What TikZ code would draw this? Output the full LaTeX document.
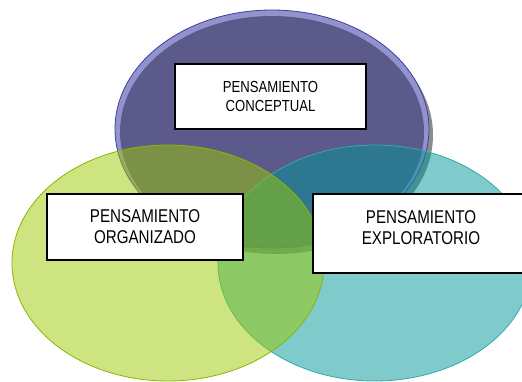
\documentclass[tikz,border=0pt]{standalone}
\usepackage{fontspec}
\newfontfamily\boxfont[FakeStretch=0.82]{Liberation Sans}
\usepackage{tikz}
\usetikzlibrary{backgrounds}
\usetikzlibrary{calc}
\definecolor{purplemain}{HTML}{5B5A8B}
\definecolor{purplerim}{HTML}{9393CC}
\definecolor{purpleline}{HTML}{3E3EA6}
\definecolor{tealbase}{HTML}{009597}
\definecolor{greenbase}{HTML}{9BC901}
\tikzset{
  thinkbox/.style={draw=black, line width=1.8pt, fill=white, inner sep=0pt, align=center},
  bigtext/.style={font=\boxfont\fontsize{18.5}{21}\selectfont},
  smalltext/.style={font=\boxfont\fontsize{16}{19}\selectfont},
  softset/.style={fill opacity=0.5, draw opacity=1, line width=0.8pt}
}

\begin{document}
\begin{tikzpicture}[x=1pt, y=1pt]
  \useasboundingbox (0,0) rectangle (522,381);
  \clip (0,0) rectangle (522,381);
  % top ellipse with its shadow
  \fill[black!45] (276,246) ellipse (157 and 119);
  \fill[purplerim] (272,252) ellipse (157 and 119);
  \fill[purplemain] (272,249) ellipse (152 and 116);
  \draw[purpleline, line width=0.8pt] (272,252) ellipse (157 and 119);
  % lower ellipses
  \path[softset, fill=tealbase, draw=tealbase!80!white] (375,118) ellipse (157 and 118);
  \path[softset, fill=greenbase, draw=greenbase!90!black] (168,118) ellipse (156 and 118);
  % labels
  \node[thinkbox, smalltext, minimum width=191, minimum height=65] (conceptual) at (270.5,284.5) {PENSAMIENTO\\CONCEPTUAL};
  \node[thinkbox, bigtext, minimum width=196, minimum height=66] (organizado) at (145,154) {PENSAMIENTO\\ORGANIZADO};
  \node[thinkbox, bigtext, minimum width=216, minimum height=79] (exploratorio) at (421,147.5) {PENSAMIENTO\\EXPLORATORIO\\[-9pt]\mbox{}};
\end{tikzpicture}
\end{document}
